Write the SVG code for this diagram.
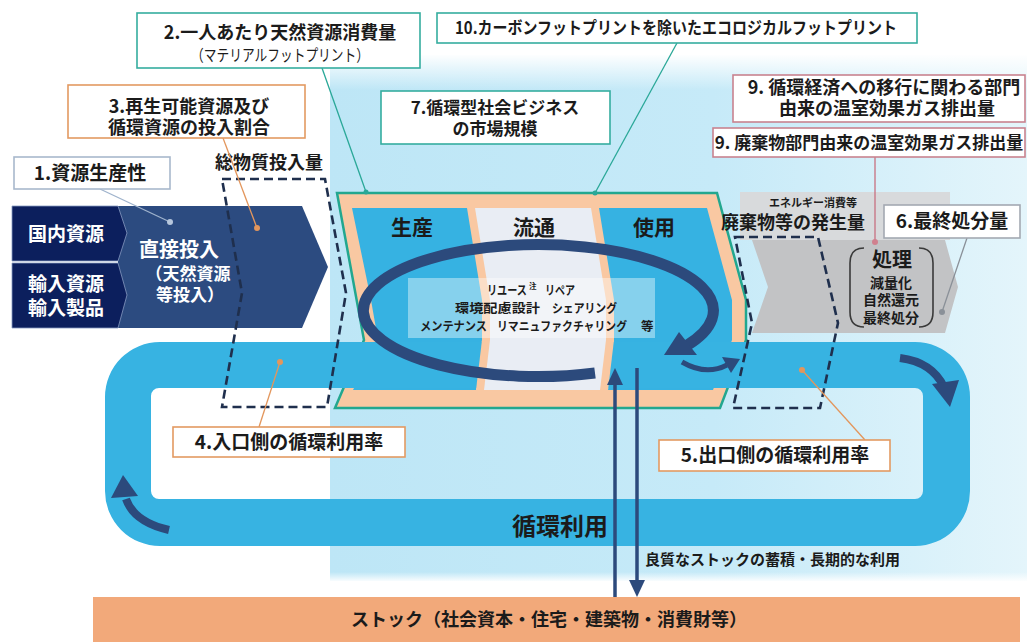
<svg xmlns="http://www.w3.org/2000/svg" width="1027" height="642" viewBox="0 0 1027 642">
<defs>
  <linearGradient id="bgH" x1="0" y1="0" x2="1" y2="0">
    <stop offset="0" stop-color="#bde6f6"/>
    <stop offset="0.55" stop-color="#c6eaf8"/>
    <stop offset="1" stop-color="#e4f5fb"/>
  </linearGradient>
  <linearGradient id="fadeTop" x1="0" y1="0" x2="0" y2="1">
    <stop offset="0" stop-color="#ffffff" stop-opacity="1"/>
    <stop offset="1" stop-color="#ffffff" stop-opacity="0"/>
  </linearGradient>
  <linearGradient id="fadeBot" x1="0" y1="0" x2="0" y2="1">
    <stop offset="0" stop-color="#ffffff" stop-opacity="0"/>
    <stop offset="1" stop-color="#ffffff" stop-opacity="1"/>
  </linearGradient>
</defs>
<style>
  text { font-family: "Noto Sans CJK JP", "Noto Sans CJK SC", sans-serif; }
  .lbl { font-weight: 700; fill: #1b1b1b; }
  .wt { font-weight: 700; fill: #ffffff; }
  .box { fill: #ffffff; stroke-width: 1.6; }
  .teal { stroke: #35ad9f; }
  .orange { stroke: #e39a62; }
  .pink { stroke: #c9838f; }
  .gray { stroke: #a3a9b2; }
  .bgray { stroke: #a8b8cc; }
  .ptr { fill: none; stroke-width: 1.3; }
  .flow { fill: none; stroke: #2c4a7c; }
  .head { fill: #2c4a7c; }
  .dash { fill: none; stroke: #1f2f4d; stroke-width: 2.6; stroke-dasharray: 9 5; }
  .col { fill: #36b2e2; }
  .mid { fill: #e9edf4; }
</style>

<!-- background -->
<rect x="0" y="0" width="1027" height="642" fill="#ffffff"/>
<rect x="330" y="55" width="697" height="526" fill="url(#bgH)"/>
<rect x="330" y="54" width="697" height="36" fill="url(#fadeTop)"/>
<rect x="330" y="572" width="697" height="10" fill="url(#fadeBot)"/>

<!-- central process -->
<g id="process">
  <polygon points="337,193 717,193 746,300 746,340 720,408 335,408 364,340" fill="#f9c8a2" stroke="#22a78f" stroke-width="2.5"/>
  <polygon id="col-seisan" class="col" points="352,208 467,208 482,300 482,340 476,390 353,390 378,340 371,300"/>
  <polygon id="col-shiyo" class="col" points="599,208 707,208 732,300 732,340 713,390 608,390 614,340 614,300"/>
  <polygon class="mid" points="475,208 591,208 606,300 606,340 600,390 484,390 490,340 490,300"/>
</g>

<!-- circulation band -->
<g id="band">
  <path fill="#37b3e2" fill-rule="evenodd" d="M160,342 H915 A55,55 0 0 1 970,397 V491 A55,55 0 0 1 915,546 H160 A55,55 0 0 1 105,491 V397 A55,55 0 0 1 160,342 Z M159,388 H915 A8,8 0 0 1 923,396 V491 A8,8 0 0 1 915,499 H159 A8,8 0 0 1 151,491 V396 A8,8 0 0 1 159,388 Z"/>
  <polygon fill="#f9c8a2" points="482,340 614,340 608,390 476,390"/>
  <polygon id="col-ryutsu" class="mid" points="490,340 606,340 600,390 484,390"/>
  <text class="lbl" x="560" y="535" font-size="24" text-anchor="middle" fill="#16233a">循環利用</text>
</g>

<!-- column labels -->
<g id="process-labels">
  <text class="lbl" x="412" y="235" font-size="21" text-anchor="middle">生産</text>
  <text class="lbl" x="534" y="235" font-size="21" text-anchor="middle">流通</text>
  <text class="lbl" x="654" y="235" font-size="21" text-anchor="middle">使用</text>
</g>

<g id="inner-loop">
  <rect x="408" y="278" width="247" height="60" fill="#ffffff" fill-opacity="0.4"/>
  <text class="lbl" x="487" y="295" font-size="12.5" textLength="40" lengthAdjust="spacingAndGlyphs">リユース</text>
  <text class="lbl" x="529" y="289" font-size="7.5">注</text>
  <text class="lbl" x="545" y="295" font-size="12.5" textLength="30" lengthAdjust="spacingAndGlyphs">リペア</text>
  <text class="lbl" x="455" y="313" font-size="12.5" textLength="85" lengthAdjust="spacingAndGlyphs">環境配慮設計</text>
  <text class="lbl" x="552" y="313" font-size="12.5" textLength="65" lengthAdjust="spacingAndGlyphs">シェアリング</text>
  <text class="lbl" x="420" y="331" font-size="12.5" textLength="67" lengthAdjust="spacingAndGlyphs">メンテナンス</text>
  <text class="lbl" x="497" y="331" font-size="12.5" textLength="130" lengthAdjust="spacingAndGlyphs">リマニュファクチャリング</text>
  <text class="lbl" x="641" y="331" font-size="12.5">等</text>
</g>

<!-- input arrow -->
<g id="input">
  <polygon points="118,206 302,206 328,267 302,328 118,328" fill="#2c4b80"/>
  <polygon points="12,206 118,206 127,233 118,261 12,261" fill="#0c1f5d" stroke="#8799c0" stroke-width="0.8"/>
  <polygon points="12,263 118,263 127,295 118,328 12,328" fill="#0c1f5d" stroke="#8799c0" stroke-width="0.8"/>
  <text class="wt" x="66" y="241" font-size="19" text-anchor="middle">国内資源</text>
  <text class="wt" font-size="19" text-anchor="middle"><tspan x="66" y="291">輸入資源</tspan><tspan x="66" y="315">輸入製品</tspan></text>
  <text class="wt" text-anchor="middle"><tspan x="179" y="257" font-size="20">直接投入</tspan><tspan x="188" y="280" font-size="17">（天然資源</tspan><tspan x="190" y="301" font-size="17">等投入）</tspan></text>
</g>

<!-- waste / treatment -->
<g id="waste">
  <rect x="740" y="192" width="210" height="48" fill="#d8dadc"/>
  <polygon points="752,240 945,240 958,287 945,333 752,333 768,287" fill="#c2c3c5"/>
  <text class="lbl" text-anchor="middle"><tspan x="813" y="207" font-size="11">エネルギー消費等</tspan><tspan x="793" y="229" font-size="18">廃棄物等の発生量</tspan></text>
</g>

<g id="treatment">
  <path d="M864,248 Q850,248 850,263 V312 Q850,327 864,327" fill="none" stroke="#3a3a3a" stroke-width="1.6"/>
  <path d="M919,248 Q933,248 933,263 V312 Q933,327 919,327" fill="none" stroke="#3a3a3a" stroke-width="1.6"/>
  <text class="lbl" text-anchor="middle"><tspan x="892" y="267" font-size="20">処理</tspan><tspan x="891" y="288" font-size="14">減量化</tspan><tspan x="891" y="305" font-size="14">自然還元</tspan><tspan x="891" y="323" font-size="14">最終処分</tspan></text>
</g>

<!-- dashed measure frames -->
<g id="input-frame">
  <polygon class="dash" points="222,179 325,179 346,293 327,407 222,407 242,293"/>
  <text class="lbl" x="269" y="169" font-size="18" text-anchor="middle">総物質投入量</text>
</g>
<g id="output-frame">
  <polygon class="dash" points="735,237 818,237 838,323 820,408 733,408 752,323"/>
</g>

<!-- stock -->
<g id="stock">
  <rect x="93" y="597" width="927" height="45" fill="#f2a97a"/>
  <text class="lbl" x="549" y="626" font-size="18" text-anchor="middle">ストック（社会資本・住宅・建築物・消費財等）</text>
</g>

<!-- connectors -->
<g id="connectors">
  <path class="flow" stroke-width="11" d="M595,373 A175,66 0 1 1 686,346"/>
  <polygon class="head" points="664,355 679,332 697,355"/>
  <path class="flow" stroke-width="5" d="M682,362 Q706,376 727,365"/>
  <polygon class="head" points="740,359 722,357 731,373"/>
  <path class="flow" stroke-width="8" d="M900,358 Q932,362 944,387"/>
  <polygon class="head" points="950,407 932,384 959,380"/>
  <path class="flow" stroke-width="8" d="M169,530 Q134,522 126,499"/>
  <polygon class="head" points="123,475 111,498 138,496"/>
  <line class="flow" stroke-width="3.5" x1="615" y1="597" x2="615" y2="382"/>
  <polygon class="head" points="615,368 607,385 623,385"/>
  <line class="flow" stroke-width="3.5" x1="637" y1="368" x2="637" y2="583"/>
  <polygon class="head" points="637,597 629,580 645,580"/>
  <text class="lbl" x="645" y="565" font-size="15">良質なストックの蓄積・長期的な利用</text>
  <line class="ptr" stroke="#9fb3cc" x1="100" y1="189" x2="170" y2="222"/>
  <circle cx="170" cy="222" r="3" fill="#b6c6dc"/>
  <line class="ptr" stroke="#e3965c" x1="223" y1="138" x2="257" y2="228"/>
  <circle cx="257" cy="228" r="3" fill="#e3965c"/>
  <line class="ptr" stroke="#2aa898" x1="322" y1="68" x2="366" y2="192"/>
  <circle cx="366" cy="192" r="2.5" fill="#2aa898"/>
  <line class="ptr" stroke="#2aa898" x1="677" y1="43" x2="595" y2="193"/>
  <circle cx="595" cy="193" r="2.5" fill="#2aa898"/>
  <line class="ptr" stroke="#c87080" x1="875" y1="157" x2="875" y2="242"/>
  <circle cx="875" cy="242" r="3" fill="#d0808e"/>
  <line class="ptr" stroke="#8a9098" x1="967" y1="238" x2="942" y2="312"/>
  <circle cx="942" cy="312" r="3" fill="#8a9098"/>
  <line class="ptr" stroke="#e3965c" x1="280" y1="362" x2="259" y2="427"/>
  <circle cx="280" cy="362" r="3" fill="#e3965c"/>
  <line class="ptr" stroke="#e3965c" x1="802" y1="370" x2="865" y2="440"/>
  <circle cx="802" cy="370" r="3" fill="#e3965c"/>
</g>

<!-- indicator boxes -->
<g id="ind2">
  <rect class="box teal" x="137" y="13" width="283" height="55"/>
  <text text-anchor="middle" fill="#1b1b1b"><tspan class="lbl" x="280" y="39" font-size="18">2.一人あたり天然資源消費量</tspan><tspan x="280" y="61" font-size="16" textLength="178" lengthAdjust="spacingAndGlyphs">（マテリアルフットプリント）</tspan></text>
</g>
<g id="ind10">
  <rect class="box teal" x="437" y="13" width="480" height="30"/>
  <text class="lbl" x="455" y="34" font-size="17" textLength="442" lengthAdjust="spacingAndGlyphs">10.カーボンフットプリントを除いたエコロジカルフットプリント</text>
</g>
<g id="ind3">
  <rect class="box orange" x="68" y="85" width="237" height="53"/>
  <text class="lbl" font-size="18" text-anchor="middle"><tspan x="189" y="113">3.再生可能資源及び</tspan><tspan x="189" y="134">循環資源の投入割合</tspan></text>
</g>
<g id="ind1">
  <rect class="box bgray" x="14" y="157" width="156" height="32"/>
  <text class="lbl" x="90" y="180" font-size="19" text-anchor="middle">1.資源生産性</text>
</g>
<g id="ind7">
  <rect class="box teal" x="381" y="91" width="229" height="53"/>
  <text class="lbl" font-size="17" text-anchor="middle"><tspan x="495" y="114">7.循環型社会ビジネス</tspan><tspan x="495" y="135">の市場規模</tspan></text>
</g>
<g id="ind9a">
  <rect class="box pink" x="733" y="75" width="292" height="47"/>
  <text class="lbl" font-size="18" text-anchor="middle"><tspan x="884" y="94">9. 循環経済への移行に関わる部門</tspan><tspan x="887" y="115">由来の温室効果ガス排出量</tspan></text>
</g>
<g id="ind9b">
  <rect class="box pink" x="713" y="128" width="312" height="29"/>
  <text class="lbl" x="869" y="149" font-size="17" text-anchor="middle">9. 廃棄物部門由来の温室効果ガス排出量</text>
</g>
<g id="ind6">
  <rect class="box gray" x="884" y="205" width="136" height="33"/>
  <text class="lbl" x="952" y="228" font-size="19" text-anchor="middle">6.最終処分量</text>
</g>
<g id="ind4">
  <rect class="box orange" x="173" y="427" width="232" height="30"/>
  <text class="lbl" x="289" y="449" font-size="19" text-anchor="middle">4.入口側の循環利用率</text>
</g>
<g id="ind5">
  <rect class="box orange" x="659" y="440" width="231" height="31"/>
  <text class="lbl" x="775" y="462" font-size="19" text-anchor="middle">5.出口側の循環利用率</text>
</g>
</svg>
